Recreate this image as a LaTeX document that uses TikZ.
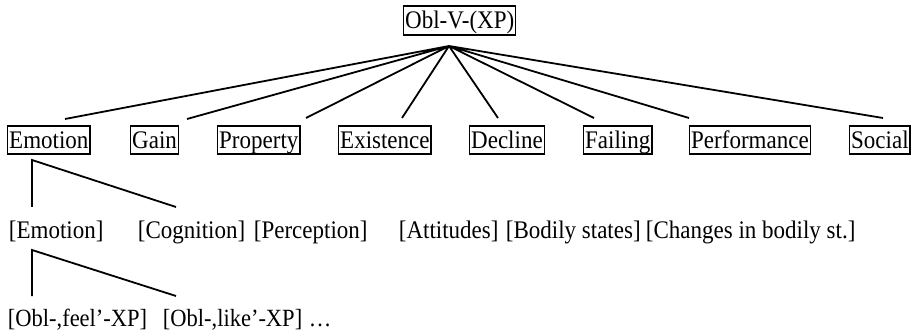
\documentclass[tikz,border=0pt]{standalone}
\usepackage{fontspec}
\setmainfont{Liberation Serif}
\usepackage{graphicx}
\usepackage{tikz}
\usetikzlibrary{positioning}
\newcommand{\tl}[1]{\scalebox{1}[1.1]{#1}}

\begin{document}
\begin{tikzpicture}[x=1pt, y=-1pt, line width=1.8pt,
    cat/.style={draw, line width=1.4pt, inner xsep=1.5pt, inner ysep=0pt,
                text height=23pt, text depth=5pt, anchor=base west, font=\fontsize{23}{26}\selectfont},
    sub/.style={inner sep=0pt, anchor=base west, font=\fontsize{23}{26}\selectfont}]
  \useasboundingbox (0,0) rectangle (913,331);
  % root
  \node (root) [cat, text depth=6pt] at (403,29) {\tl{Obl-V-(XP)}};
  % first level
  \node (emotion)  [cat] at (7,149)   {\tl{Emotion}};
  \node (gain)     [cat] at (130,149) {\tl{Gain}};
  \node (property) [cat] at (217,149) {\tl{Property}};
  \node (exist)    [cat] at (338,149) {\tl{Existence}};
  \node (decline)  [cat] at (469,149) {\tl{Decline}};
  \node (failing)  [cat] at (583,149) {\tl{Failing}};
  \node (perform)  [cat] at (689,149) {\tl{Performance}};
  \node (social)   [cat] at (849,149) {\tl{Social}};
  % second level
  \node (emo2) [sub] at (8,239)   {\tl{[Emotion]}};
  \node (cogn) [sub] at (137,239) {\tl{[Cognition]}};
  \node (perc) [sub] at (253,239) {\tl{[Perception]}};
  \node (att)  [sub] at (398,239) {\tl{[Attitudes]}};
  \node (bod)  [sub] at (505,239) {\tl{[Bodily states]}};
  \node (chg)  [sub] at (645,239) {\tl{[Changes in bodily st.]}};
  % third level
  \node (feel) [sub, font=\fontsize{22.5}{26}\selectfont] at (7,326)   {\tl{[Obl-,feel’-XP]}};
  \node (like) [sub, font=\fontsize{22.5}{26}\selectfont] at (162,326) {\tl{[Obl-,like’-XP]}};
  \node (more) [sub, font=\fontsize{22.5}{26}\selectfont] at (308,326) {\tl{…}};
  % branch points
  \coordinate (top) at (449,46);
  \coordinate (e1) at (65,119);
  \coordinate (e2) at (187,119);
  \coordinate (e3) at (306,118);
  \coordinate (e4) at (402,118);
  \coordinate (e5) at (498,118);
  \coordinate (e6) at (594,118);
  \coordinate (e7) at (689,118);
  \coordinate (e8) at (883,118);
  \draw (top) -- (e1) (top) -- (e2) (top) -- (e3) (top) -- (e4)
        (top) -- (e5) (top) -- (e6) (top) -- (e7) (top) -- (e8);
  \coordinate (s1) at (32,160);
  \coordinate (s1a) at (32,207);
  \coordinate (s1b) at (176,207);
  \draw (s1a) -- (s1) -- (s1b);
  \coordinate (s2) at (32,250);
  \coordinate (s2a) at (32,296);
  \coordinate (s2b) at (176,296);
  \draw (s2a) -- (s2) -- (s2b);
\end{tikzpicture}
\end{document}
